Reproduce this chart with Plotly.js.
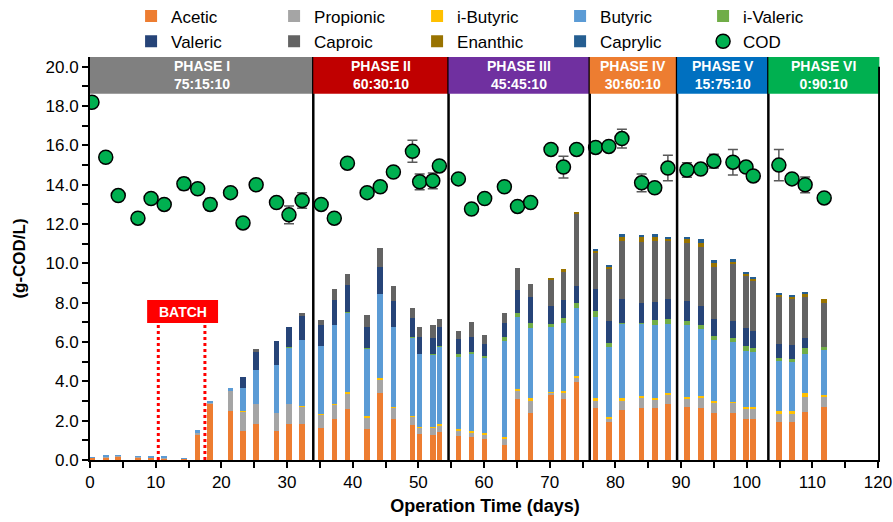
<!DOCTYPE html>
<html>
<head>
<meta charset="utf-8">
<script src="https://cdn.plot.ly/plotly-3.0.1.min.js"></script>
<style>html,body{margin:0;padding:0;background:#fff;}#chart{width:893px;height:522px;}</style>
</head>
<body>
<div id="chart"></div>
<script>
// Operation days of each sample
var days = [0.3,2.4,4.3,7.3,9.3,11.3,14.3,16.4,18.3,21.4,23.3,25.3,28.4,30.3,32.3,
  35.2,37.2,39.2,42.2,44.2,46.2,49.1,50.2,52.2,53.2,
  56.1,58.1,60.1,63.1,65.1,67.1,70.2,72.1,74.1,
  77.0,79.0,81.0,84.0,86.0,88.0,
  90.9,93.0,95.0,97.9,99.9,101.0,
  104.9,106.9,108.9,111.8];

var acetic = [0.12,0.15,0.18,0.14,0.14,0.10,0.07,1.32,2.85,2.50,1.50,1.83,1.50,1.83,1.83,
  1.63,2.08,2.60,1.58,3.40,2.08,1.78,1.32,1.27,1.42,
  1.22,1.17,1.07,0.76,3.10,2.39,3.31,3.10,3.97,
  2.65,1.93,2.54,2.65,2.65,2.85,
  2.70,2.65,2.39,2.39,2.08,2.08,
  1.93,1.93,2.44,2.70];
var propionic = [0,0.03,0.03,0.03,0,0.02,0,0.05,0.05,1.05,0.95,1.02,0.90,1.02,0.88,
  0.66,0.72,0.76,0.60,0.72,0.57,0.41,0.32,0.37,0.36,
  0.30,0.25,0.25,0.33,0.43,0.62,0.10,0.31,0.22,
  0.35,0.16,0.46,0.51,0.41,0.46,
  0.42,0.51,0.51,0.51,0.52,0.52,
  0.46,0.46,0.77,0.51];
var iButyric = [0,0,0,0,0,0,0,0,0,0,0.02,0,0,0,0.04,
  0.05,0.05,0.10,0.06,0.05,0.05,0.05,0.04,0.04,0.05,
  0.06,0.06,0.05,0.08,0.08,0.15,0.03,0.10,0.08,
  0.16,0.10,0.16,0.10,0.10,0.10,
  0.09,0.10,0.10,0.05,0.10,0.10,
  0.10,0.10,0.20,0.10];
var butyric = [0.03,0.04,0.04,0.03,0.03,0.05,0.03,0.16,0.10,0.10,1.18,1.73,2.43,2.85,3.35,
  3.46,4.02,4.02,3.43,4.28,4.07,3.97,3.71,3.67,3.92,
  3.71,3.92,3.82,4.88,3.67,3.56,3.33,3.46,3.46,
  4.12,3.56,3.76,3.66,3.71,3.51,
  3.66,3.41,3.10,3.05,2.85,2.80,
  2.55,2.50,1.98,2.29];
var iValeric = [0,0,0,0,0,0,0,0,0,0,0,0.02,0,0.05,0,
  0,0,0.04,0.03,0,0,0.05,0,0.04,0.05,
  0.10,0.10,0.10,0.21,0.20,0.25,0.15,0.25,0.26,
  0.30,0.20,0.05,0.05,0.25,0.26,
  0.20,0.20,0.21,0.21,0.25,0.20,
  0.15,0.15,0.31,0.15];
var valeric = [0,0,0,0,0,0,0,0,0,0,0.55,0.90,1.22,1.02,1.20,
  1.07,1.27,1.38,1.07,1.37,1.32,0.97,0.87,0.83,0.97,
  0.77,0.76,0.61,0.71,1.17,1.33,0.92,0.92,0.86,
  1.12,1.12,1.22,1.02,0.92,1.02,
  1.02,0.97,0.86,0.86,0.92,0.86,
  0.71,0.71,0.51,0];
var caproic = [0,0,0,0,0,0,0,0,0,0,0,0.15,0,0,0.20,
  0.25,0.56,0.57,0.61,0.98,0.76,0.51,0.51,0.66,0.40,
  0.40,0.76,0.46,0.51,1.12,0.66,1.34,1.43,3.65,
  1.83,2.65,2.96,3.11,3.08,2.92,
  2.96,3.00,2.65,2.90,2.64,2.55,
  2.40,2.39,2.09,2.24];
var enanthic = [0,0,0,0,0,0,0,0,0,0,0,0,0,0,0,
  0,0,0,0,0,0,0,0,0,0,
  0,0,0,0,0,0,0.08,0.15,0.12,
  0.15,0.12,0.20,0.25,0.20,0.15,
  0.20,0.21,0.20,0.11,0.15,0.10,
  0.10,0.08,0.15,0.20];
var caprylic = [0,0,0,0,0,0,0,0,0,0,0,0,0,0,0,
  0,0,0,0,0,0,0,0,0,0,
  0,0,0,0,0,0,0,0,0,
  0.06,0.03,0.15,0.10,0.18,0.08,
  0.10,0.20,0.16,0.15,0.06,0.10,
  0.05,0.03,0.10,0];

var cod = [18.2,15.4,13.45,12.3,13.3,13.0,14.05,13.8,13.0,13.6,12.06,14.0,13.1,12.47,13.2,
  13.0,12.3,15.1,13.6,13.9,14.65,15.7,14.15,14.2,14.96,
  14.3,12.77,13.3,13.9,12.9,13.1,15.8,14.9,15.8,
  15.9,15.95,16.35,14.1,13.85,14.85,
  14.75,14.8,15.2,15.15,14.9,14.45,
  15.0,14.3,14.0,13.33];
var codErr = [0.2,0.2,0.1,0.1,0.1,0.1,0.3,0.1,0.3,0.1,0.15,0.2,0.1,0.45,0.4,
  0.1,0.1,0.1,0.1,0.2,0.1,0.56,0.4,0.4,0.1,
  0.1,0.1,0.1,0.1,0.1,0.2,0.1,0.55,0.1,
  0.15,0.1,0.48,0.45,0.2,0.65,
  0.37,0.1,0.35,0.65,0.15,0.1,
  0.8,0.1,0.4,0.1];

var seriesNames = ['Acetic','Propionic','i-Butyric','Butyric','i-Valeric','Valeric','Caproic','Enanthic','Caprylic'];
var seriesValues = [acetic, propionic, iButyric, butyric, iValeric, valeric, caproic, enanthic, caprylic];
var seriesColors = ['#ED7D31','#A5A5A5','#FFC000','#5B9BD5','#70AD47','#264478','#636363','#997300','#255E91'];

var phaseNames = ['PHASE I','PHASE II','PHASE III','PHASE IV','PHASE V','PHASE VI'];
var phaseRatios = ['75:15:10','60:30:10','45:45:10','30:60:10','15:75:10','0:90:10'];
var phaseStarts = [0, 34, 54.6, 76.1, 89.4, 103.3];
var phaseEnds = [34, 54.6, 76.1, 89.4, 103.3, 120.2];
var phaseColors = ['#808080','#C00000','#7030A0','#ED7D31','#0070C0','#00B050'];

var batchStart = 10.4, batchEnd = 17.5;

var FONT = 'Liberation Sans, Arial, Helvetica, sans-serif';
var YMAX = 20.5, HEADER_BOTTOM = 18.63;

var traces = [];
for (var i = 0; i < seriesNames.length; i++) {
  traces.push({
    type: 'bar', name: seriesNames[i], x: days, y: seriesValues[i],
    width: 0.85, marker: {color: seriesColors[i], line: {width: 0}},
    hoverinfo: 'x+y+name'
  });
}
traces.push({
  type: 'scatter', mode: 'markers', name: 'COD', x: days, y: cod,
  marker: {size: 14, color: '#00B050', line: {color: '#000', width: 1.5}},
  error_y: {type: 'data', array: codErr, visible: true, color: '#595959', thickness: 1.5, width: 5}
});

var shapes = [], annotations = [];
for (var p = 0; p < phaseNames.length; p++) {
  shapes.push({type: 'rect', xref: 'x', yref: 'y', x0: phaseStarts[p], x1: phaseEnds[p],
    y0: HEADER_BOTTOM, y1: YMAX, fillcolor: phaseColors[p], line: {width: 0}, layer: 'above'});
  annotations.push({xref: 'x', yref: 'y', x: (phaseStarts[p] + phaseEnds[p]) / 2,
    y: (HEADER_BOTTOM + YMAX) / 2, showarrow: false,
    text: '<b>' + phaseNames[p] + '<br>' + phaseRatios[p] + '</b>',
    font: {family: FONT, size: 14, color: '#fff'}});
  shapes.push({type: 'line', xref: 'x', yref: 'y', x0: phaseEnds[p], x1: phaseEnds[p],
    y0: 0, y1: (p === phaseNames.length - 1 ? 20.0 : YMAX), line: {color: '#000', width: 2.5}, layer: 'above'});
}
// batch period
[batchStart, batchEnd].forEach(function (bx) {
  shapes.push({type: 'line', xref: 'x', yref: 'y', x0: bx, x1: bx, y0: 0, y1: 6.97,
    line: {color: '#FF0000', width: 3, dash: 'dot'}, layer: 'above'});
});
shapes.push({type: 'rect', xref: 'x', yref: 'y', x0: 8.7, x1: 19.5, y0: 6.97, y1: 8.14,
  fillcolor: '#FF0000', line: {width: 0}, layer: 'above'});
annotations.push({xref: 'x', yref: 'y', x: 14.1, y: 7.55, showarrow: false,
  text: '<b>BATCH</b>', font: {family: FONT, size: 14, color: '#fff'}});

var layout = {
  width: 893, height: 522,
  margin: {l: 90, r: 13, t: 57, b: 62, autoexpand: false},
  paper_bgcolor: '#fff', plot_bgcolor: '#fff',
  font: {family: FONT, color: '#000'},
  barmode: 'stack', bargap: 0,
  showlegend: true,
  legend: {orientation: 'h', x: 0.052, xanchor: 'left', y: 1.145, yanchor: 'top',
    entrywidth: 98, entrywidthmode: 'pixels', traceorder: 'normal',
    font: {family: FONT, size: 17, color: '#000'}, itemwidth: 30, tracegroupgap: 0,
    bgcolor: 'rgba(0,0,0,0)'},
  xaxis: {range: [0, 120.3], dtick: 10, tick0: 0, showgrid: false, zeroline: false,
    showline: true, linecolor: '#000', linewidth: 2,
    ticks: 'outside', ticklen: 6, tickwidth: 2, tickcolor: '#000',
    minor: {dtick: 5, ticks: 'outside', ticklen: 6, tickwidth: 2, tickcolor: '#000', showgrid: false},
    tickfont: {family: FONT, size: 17},
    title: {text: '<b>Operation Time (days)</b>', font: {family: FONT, size: 18}, standoff: 8}},
  yaxis: {range: [0, YMAX], dtick: 2, tick0: 0, tickformat: '.1f', showgrid: false, zeroline: false,
    showline: true, linecolor: '#000', linewidth: 2,
    ticks: 'outside', ticklen: 6, tickwidth: 2, tickcolor: '#000',
    minor: {dtick: 1, ticks: 'outside', ticklen: 6, tickwidth: 2, tickcolor: '#000', showgrid: false},
    tickfont: {family: FONT, size: 17},
    title: {text: '<b>(g-COD/L)</b>', font: {family: FONT, size: 17}, standoff: 16}},
  shapes: shapes, annotations: annotations
};

Plotly.newPlot('chart', traces, layout, {displayModeBar: false, responsive: false});
</script>
</body>
</html>
